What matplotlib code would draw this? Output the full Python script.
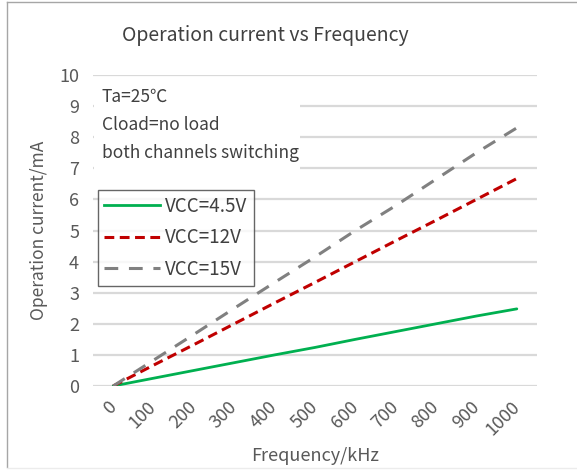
import matplotlib
matplotlib.use("Agg")
import matplotlib.pyplot as plt
from matplotlib.lines import Line2D
from matplotlib.patches import Rectangle

plt.rcParams['font.family'] = ['Noto Sans CJK SC', 'DejaVu Sans']

freq = [0, 100, 200, 300, 400, 500, 600, 700, 800, 900, 1000]
vcc45 = [0, 0.25, 0.5, 0.75, 1.0, 1.24, 1.5, 1.75, 2.0, 2.25, 2.48]
vcc12 = [0, 0.67, 1.33, 2.0, 2.67, 3.33, 4.0, 4.67, 5.33, 6.0, 6.67]
vcc15 = [0, 0.83, 1.66, 2.5, 3.33, 4.15, 5.0, 5.8, 6.65, 7.5, 8.3]
labels = ["VCC=4.5V", "VCC=12V", "VCC=15V"]
xticklabels = [str(f) for f in freq]
yticks = list(range(0, 11))

W, H = 577, 470
fig = plt.figure(figsize=(W / 100, H / 100), dpi=100)
ax = fig.add_axes([93 / W, 1 - 386 / H, (537 - 93) / W, (386 - 75) / H])

txt = '#404040'
grid_c = '#d9d9d9'

for y in yticks:
    ax.axhline(y, color=grid_c, lw=1.6, zorder=0)

ax.plot(freq, vcc45, color='#00b050', lw=2.0, solid_capstyle='round', zorder=3)
ax.plot(freq, vcc12, color='#c00000', lw=2.2, dashes=(3.2, 1.8), zorder=3)
ax.plot(freq, vcc15, color='#808080', lw=2.2, dashes=(4.5, 3.5), zorder=3)

ax.set_xlim(-50, 1050)
ax.set_ylim(0, 10)
ax.set_yticks(yticks)
ax.set_yticklabels([str(y) for y in yticks])
ax.set_xticks(freq)
ax.set_xticklabels(xticklabels, rotation=45, ha='right', va='center', rotation_mode='anchor')
ax.tick_params(axis='both', length=0, labelsize=13, labelcolor='#595959')
ax.tick_params(axis='y', pad=10)
ax.tick_params(axis='x', pad=13)
for s in ax.spines.values():
    s.set_visible(False)

ax.set_xlabel("Frequency/kHz", fontsize=13, color='#595959', labelpad=6)
ax.set_ylabel("Operation current/mA", fontsize=12.5, color='#595959', labelpad=8)

fig.text(265 / W, 1 - 36 / H, "Operation current vs Frequency", fontsize=14,
         color=txt, ha='center', va='center')

# annotation box
fig.patches.append(Rectangle((94 / W, 1 - 172 / H), (300 - 94) / W, (172 - 80) / H,
                             transform=fig.transFigure, facecolor='white',
                             edgecolor='none', zorder=2))
for i, line in enumerate(["Ta=25℃", "Cload=no load", "both channels switching"]):
    fig.text(102 / W, 1 - (97 + 28 * i) / H, line, fontsize=12.5, color=txt,
             ha='left', va='center', zorder=3)

handles = [
    Line2D([], [], color='#00b050', lw=2.0),
    Line2D([], [], color='#c00000', lw=2.2, dashes=(3.2, 1.8)),
    Line2D([], [], color='#808080', lw=2.2, dashes=(4.5, 3.5)),
]
leg = ax.legend(handles, labels, loc='upper left',
                bbox_to_anchor=(98 / W, 1 - 190 / H), bbox_transform=fig.transFigure,
                fontsize=13.5, frameon=True, fancybox=False, handlelength=3.0,
                handletextpad=0.27, labelspacing=0.55, borderpad=0.32,
                borderaxespad=0)
leg.get_frame().set_edgecolor('#404040')
leg.get_frame().set_linewidth(1.0)
for t in leg.get_texts():
    t.set_color(txt)
leg.set_zorder(5)

# figure frame
fig.add_artist(Line2D([7 / W, 7 / W], [1 - 2 / H, 1 - 467 / H], transform=fig.transFigure,
                      color='#a6a6a6', lw=1.0))
fig.add_artist(Line2D([7 / W, 1], [1 - 2 / H, 1 - 2 / H], transform=fig.transFigure,
                      color='#a6a6a6', lw=1.0))
fig.add_artist(Line2D([7 / W, 1], [1 - 468 / H, 1 - 468 / H], transform=fig.transFigure,
                      color='#ececec', lw=1.0))

fig.savefig("out.png", dpi=100)
